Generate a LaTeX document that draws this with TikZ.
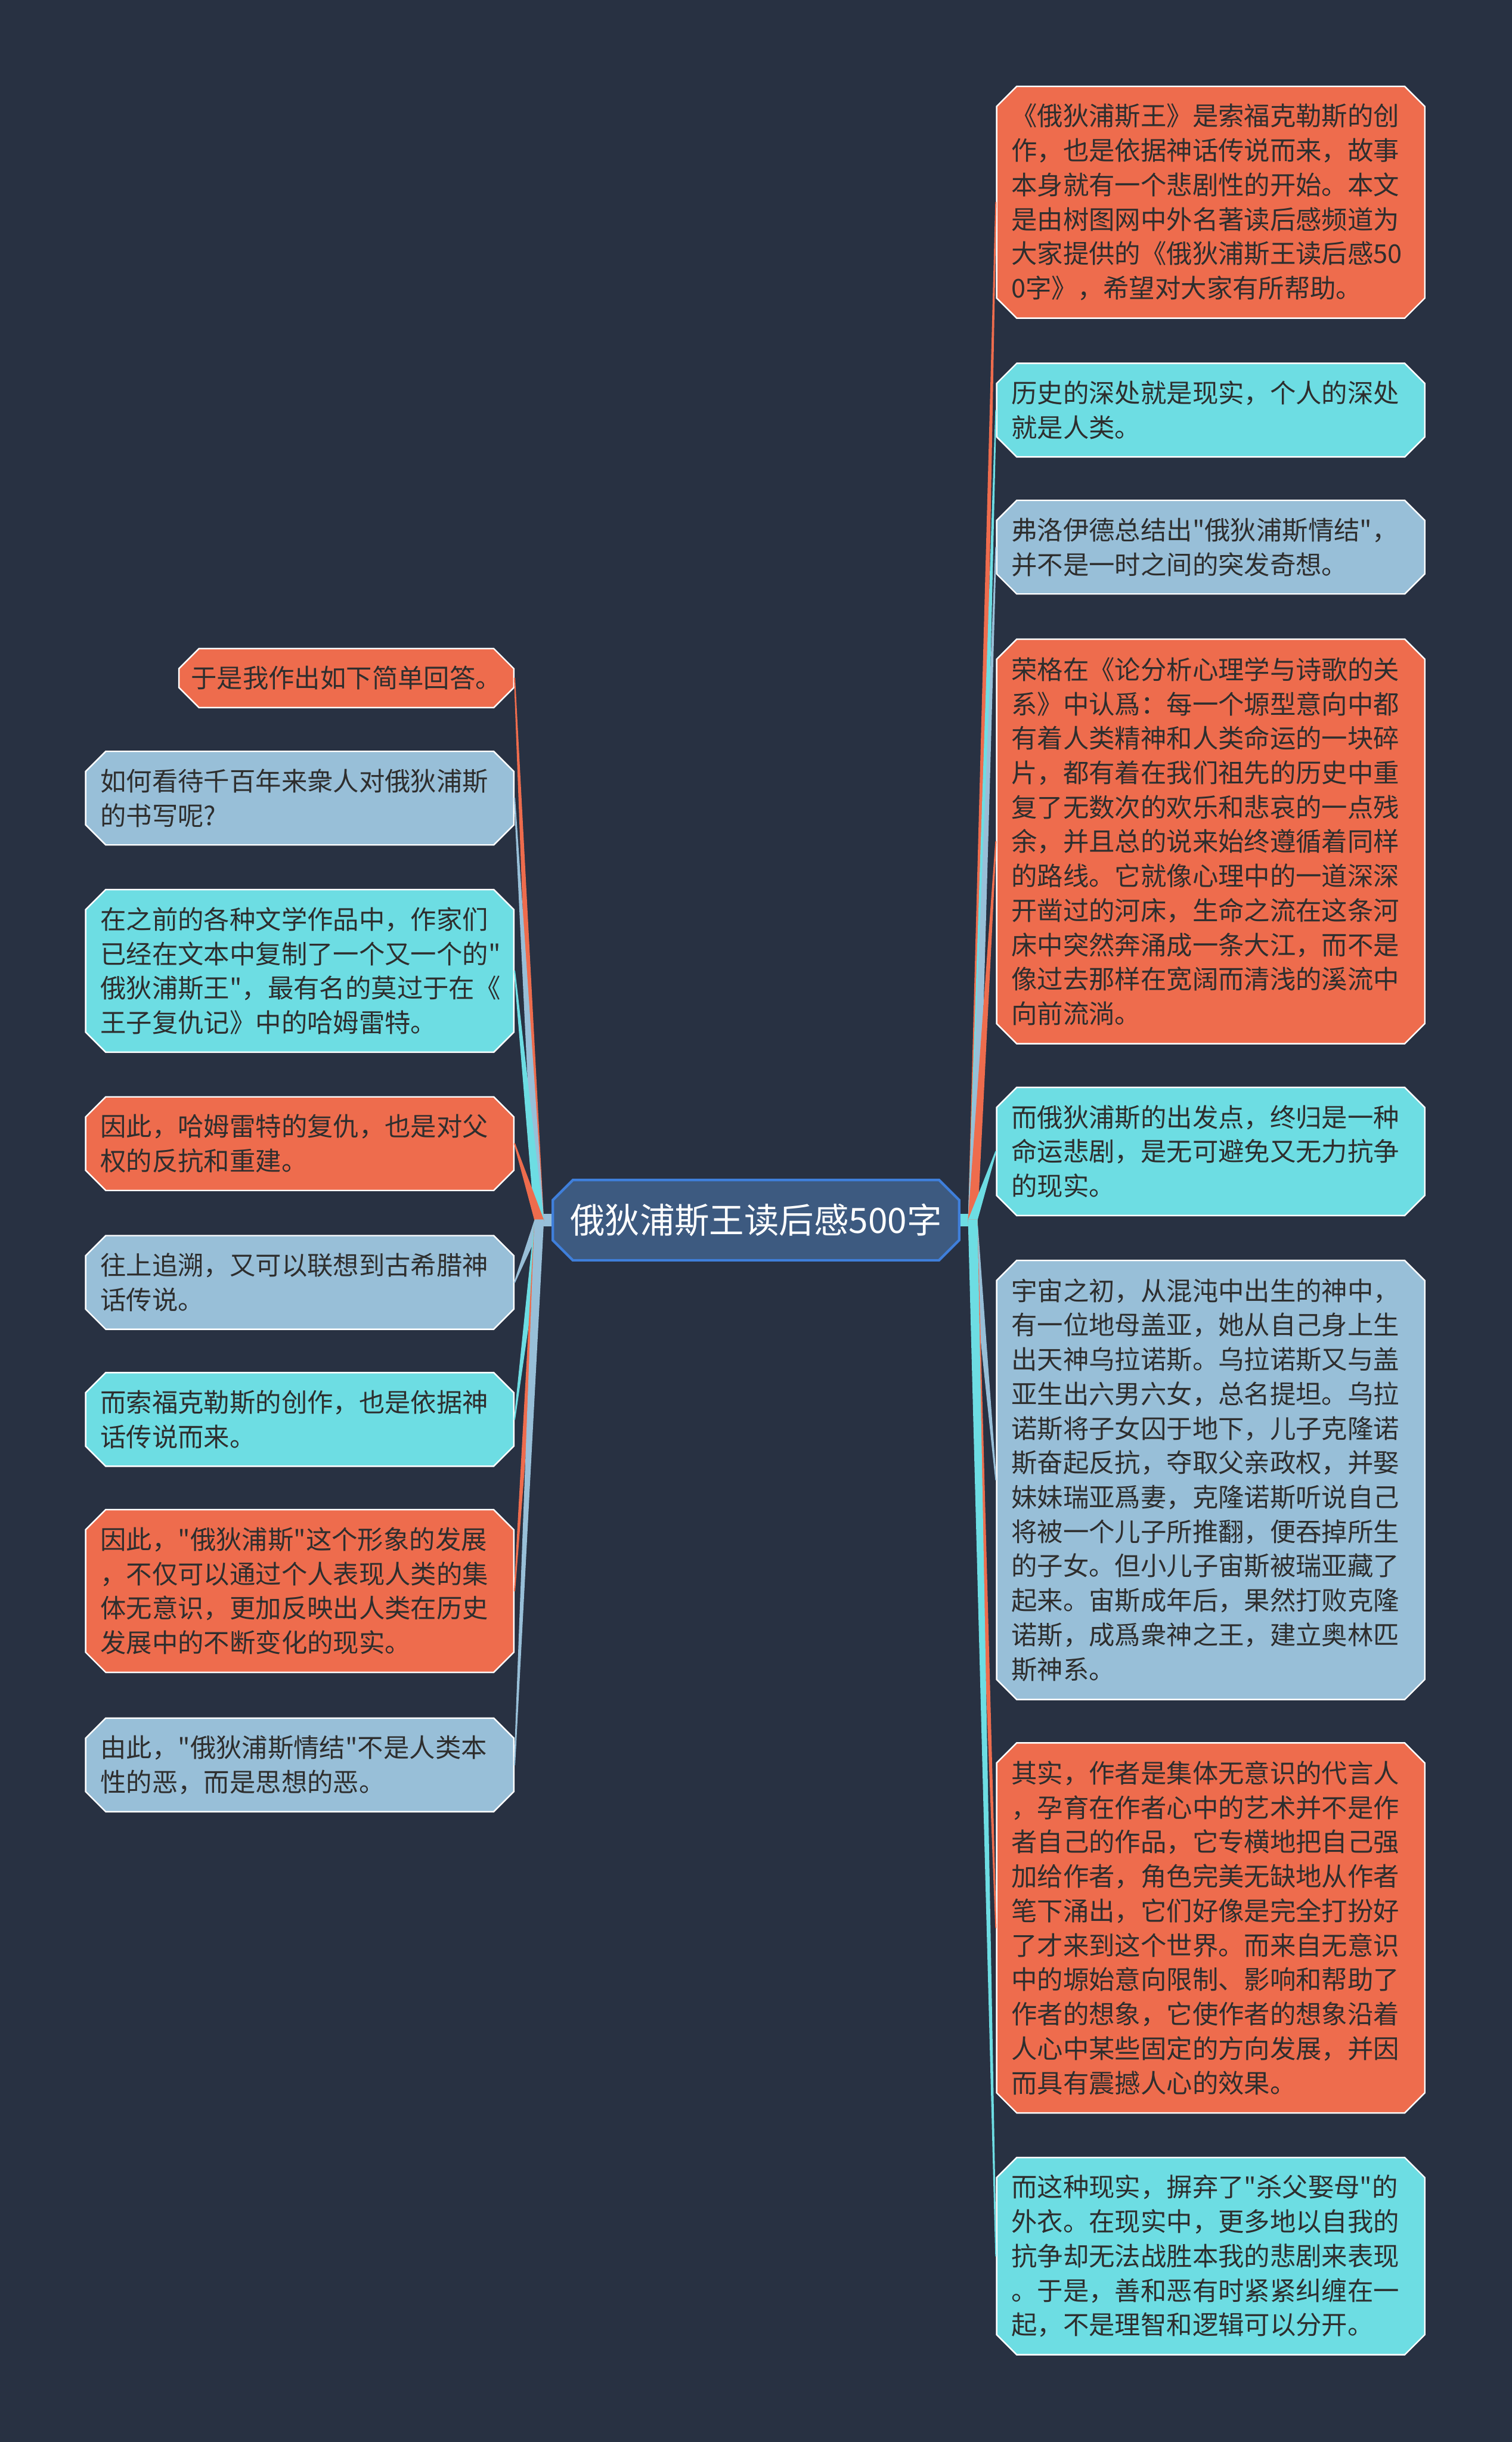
\documentclass[tikz,border=0pt]{standalone}
\usepackage{fontspec}
\newfontfamily\cjk{Noto Sans CJK SC}
\usetikzlibrary{shapes.misc,calc}

\definecolor{bgdark}{HTML}{283142}
\definecolor{nodeorange}{HTML}{EE6C4D}
\definecolor{nodecyan}{HTML}{6DDDE3}
\definecolor{nodeblue}{HTML}{98BFD8}
\definecolor{hubfill}{HTML}{3D5A80}
\definecolor{hubline}{HTML}{3F7FDB}
\definecolor{inktext}{HTML}{2E2E2E}

\begin{document}
\begin{tikzpicture}[
  hub/.style={chamfered rectangle, chamfered rectangle sep=0.17cm, draw=hubline, line width=1.2pt,
    fill=hubfill, text=white, inner sep=0pt, minimum width=6.88cm, minimum height=1.36cm,
    font=\cjk\fontsize{16.8pt}{20pt}\selectfont},
  leaf/.style={chamfered rectangle, chamfered rectangle sep=0.17cm, draw=white, line width=0.7pt,
    text=inktext, inner xsep=0pt, inner ysep=0.02cm, text width=6.75cm, align=left,
    minimum width=7.25cm, minimum height=#1*0.585cm+0.415cm, anchor=north,
    font=\cjk\fontsize{12.46pt}{16.58pt}\selectfont},
  link/.style={line width=0.6pt, line join=round}
]

% Canvas
\fill[bgdark] (0,0) rectangle (25.6,-41.35);
\useasboundingbox (0,0) rectangle (25.6,-41.35);

% Centre topic
\node[hub] (main) at (12.80,-20.66) {俄狄浦斯王读后感500字};

% Right column
\node[leaf=6, fill=nodeorange] (r1) at (20.50,-1.45) {《俄狄浦斯王》是索福克勒斯的创\\作，也是依据神话传说而来，故事\\本身就有一个悲剧性的开始。本文\\是由树图网中外名著读后感频道为\\大家提供的《俄狄浦斯王读后感50\\0字》，希望对大家有所帮助。};
\node[leaf=2, fill=nodecyan] (r2) at (20.50,-6.14) {历史的深处就是现实，个人的深处\\就是人类。};
\node[leaf=2, fill=nodeblue] (r3) at (20.50,-8.46) {弗洛伊德总结出"俄狄浦斯情结"，\\并不是一时之间的突发奇想。};
\node[leaf=11, fill=nodeorange] (r4) at (20.50,-10.81) {荣格在《论分析心理学与诗歌的关\\系》中认爲：每一个塬型意向中都\\有着人类精神和人类命运的一块碎\\片，都有着在我们祖先的历史中重\\复了无数次的欢乐和悲哀的一点残\\余，并且总的说来始终遵循着同样\\的路线。它就像心理中的一道深深\\开凿过的河床，生命之流在这条河\\床中突然奔涌成一条大江，而不是\\像过去那样在宽阔而清浅的溪流中\\向前流淌。};
\node[leaf=3, fill=nodecyan] (r5) at (20.50,-18.40) {而俄狄浦斯的出发点，终归是一种\\命运悲剧，是无可避免又无力抗争\\的现实。};
\node[leaf=12, fill=nodeblue] (r6) at (20.50,-21.33) {宇宙之初，从混沌中出生的神中，\\有一位地母盖亚，她从自己身上生\\出天神乌拉诺斯。乌拉诺斯又与盖\\亚生出六男六女，总名提坦。乌拉\\诺斯将子女囚于地下，儿子克隆诺\\斯奋起反抗，夺取父亲政权，并娶\\妹妹瑞亚爲妻，克隆诺斯听说自己\\将被一个儿子所推翻，便吞掉所生\\的子女。但小儿子宙斯被瑞亚藏了\\起来。宙斯成年后，果然打败克隆\\诺斯，成爲衆神之王，建立奥林匹\\斯神系。};
\node[leaf=10, fill=nodeorange] (r7) at (20.50,-29.50) {其实，作者是集体无意识的代言人\\，孕育在作者心中的艺术并不是作\\者自己的作品，它专横地把自己强\\加给作者，角色完美无缺地从作者\\笔下涌出，它们好像是完全打扮好\\了才来到这个世界。而来自无意识\\中的塬始意向限制、影响和帮助了\\作者的想象，它使作者的想象沿着\\人心中某些固定的方向发展，并因\\而具有震撼人心的效果。};
\node[leaf=5, fill=nodecyan] (r8) at (20.50,-36.52) {而这种现实，摒弃了"杀父娶母"的\\外衣。在现实中，更多地以自我的\\抗争却无法战胜本我的悲剧来表现\\。于是，善和恶有时紧紧纠缠在一\\起，不是理智和逻辑可以分开。};

% Left column
\node[leaf=1, fill=nodeorange, text width=5.26cm, minimum width=5.67cm] (l1) at (5.865,-10.97) {于是我作出如下简单回答。};
\node[leaf=2, fill=nodeblue] (l2) at (5.075,-12.71) {如何看待千百年来衆人对俄狄浦斯\\的书写呢?};
\node[leaf=4, fill=nodecyan] (l3) at (5.075,-15.05) {在之前的各种文学作品中，作家们\\已经在文本中复制了一个又一个的"\\俄狄浦斯王"，最有名的莫过于在《\\王子复仇记》中的哈姆雷特。};
\node[leaf=2, fill=nodeorange] (l4) at (5.075,-18.56) {因此，哈姆雷特的复仇，也是对父\\权的反抗和重建。};
\node[leaf=2, fill=nodeblue] (l5) at (5.075,-20.91) {往上追溯，又可以联想到古希腊神\\话传说。};
\node[leaf=2, fill=nodecyan] (l6) at (5.075,-23.23) {而索福克勒斯的创作，也是依据神\\话传说而来。};
\node[leaf=4, fill=nodeorange] (l7) at (5.075,-25.55) {因此，"俄狄浦斯"这个形象的发展\\，不仅可以通过个人表现人类的集\\体无意识，更加反映出人类在历史\\发展中的不断变化的现实。};
\node[leaf=2, fill=nodeblue] (l8) at (5.075,-29.08) {由此，"俄狄浦斯情结"不是人类本\\性的恶，而是思想的恶。};

% Branch hubs beside the centre
\coordinate (hubR) at ($(main.east)+(0.21,0)$);
\coordinate (hubL) at ($(main.west)+(-0.21,0)$);
\fill[nodecyan] ($(main.east)+(0,0.11)$) rectangle ($(hubR)+(0.05,-0.11)$);
\fill[nodeblue] ($(main.west)+(0,0.11)$) rectangle ($(hubL)+(-0.05,-0.11)$);

% Tapered connectors
\foreach \n/\c in {r1/nodeorange, r2/nodecyan, r3/nodeblue, r4/nodeorange, r5/nodecyan, r6/nodeblue, r7/nodeorange, r8/nodecyan} {
  \filldraw[link, fill=\c, draw=\c] ($(hubR)+(-0.07,0)$) -- (\n.west) -- ($(hubR)+(0.07,0)$) -- cycle;
}
\foreach \n/\c in {l1/nodeorange, l2/nodeblue, l3/nodecyan, l4/nodeorange, l5/nodeblue, l6/nodecyan, l7/nodeorange, l8/nodeblue} {
  \filldraw[link, fill=\c, draw=\c] ($(hubL)+(-0.07,0)$) -- (\n.east) -- ($(hubL)+(0.07,0)$) -- cycle;
}

\end{tikzpicture}
\end{document}
